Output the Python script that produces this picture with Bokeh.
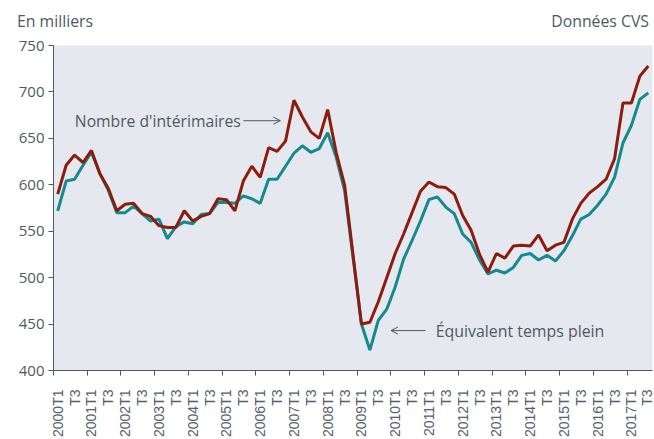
import math
from bokeh.plotting import figure
from bokeh.layouts import column
from bokeh.models import Range1d, FixedTicker, Label, Arrow, OpenHead, Div
from bokeh.embed import file_html
from bokeh.resources import INLINE

# Quarterly categories 2000T1 .. 2017T3
years = list(range(2000, 2018))
quarters = [f"{y}T{q}" for y in years for q in (1, 2, 3, 4)][:71]

# Nombre d'intérimaires (milliers, CVS)
interimaires = [590, 621, 632, 624, 637, 612, 596, 572, 579, 580,
                569, 566, 556, 554, 554, 572, 561, 566, 569, 585,
                584, 572, 604, 620, 608, 640, 636, 647, 691, 673,
                657, 650, 681, 635, 600, 525, 450, 452, 474, 500,
                526, 547, 570, 593, 603, 598, 597, 590, 567, 551,
                525, 506, 526, 521, 534, 535, 534, 546, 529, 535,
                538, 563, 580, 591, 598, 606, 628, 688, 688, 717,
                728]

# Équivalent temps plein (milliers, CVS)
etp = [572, 604, 606, 621, 635, 612, 594, 570, 570, 577,
       569, 561, 563, 542, 555, 560, 558, 568, 569, 581,
       581, 580, 588, 585, 580, 606, 606, 620, 634, 642,
       635, 639, 656, 630, 594, 522, 450, 422, 454, 466,
       490, 520, 540, 561, 584, 587, 576, 569, 547, 538,
       519, 504, 508, 505, 511, 524, 526, 519, 524, 518,
       529, 545, 563, 568, 578, 590, 608, 645, 664, 692,
       699]

y_ticks = [400, 450, 500, 550, 600, 650, 700, 750]

TEXT = "#4d5a63"
RED = "#8b1c0e"
TEAL = "#138a8c"

W = 654
HEAD_H = 33

# ---- header (unit / source notes) ----
span_style = ("position:absolute;top:10px;font-family:'Open Sans';font-size:15.8px;"
              "line-height:normal;color:%s;white-space:nowrap;" % TEXT)
header = Div(width=W, height=HEAD_H, margin=0,
             text=('<div style="position:relative;width:%dpx;height:%dpx;">'
                   '<span style="%sleft:17px;">En milliers</span>'
                   '<span style="%sright:5px;">Données CVS</span></div>')
                  % (W, HEAD_H, span_style, span_style))

# ---- main chart ----
xs = list(range(len(quarters)))

p = figure(width=W, height=439 - HEAD_H, x_range=Range1d(-0.5, len(quarters) - 0.5),
           y_range=Range1d(y_ticks[0], y_ticks[-1]),
           output_backend="svg", toolbar_location=None,
           min_border_left=53, min_border_right=2, min_border_top=12, min_border_bottom=69)
p.background_fill_color = "#e5e8ee"
p.border_fill_color = "white"
p.outline_line_color = None
p.xgrid.visible = False
p.ygrid.visible = False

# x axis: labels every 2 quarters, ticks at year boundaries
label_pos = [i for i in xs if i % 2 == 0]
p.xaxis.ticker = FixedTicker(ticks=label_pos,
                             minor_ticks=[i - 0.5 for i in range(0, len(quarters) + 4, 4)])
p.xaxis.major_label_overrides = {i: (quarters[i] if quarters[i].endswith("T1") else quarters[i][4:])
                                 for i in label_pos}
p.xaxis.major_label_orientation = math.pi / 2
p.xaxis.major_tick_out = 0
p.xaxis.major_tick_in = 0
p.xaxis.minor_tick_out = 5
p.xaxis.minor_tick_in = 0
p.xaxis.major_label_standoff = 14
p.xaxis.major_label_text_font = "Liberation Sans"
p.xaxis.major_label_text_font_size = "14px"
p.xaxis.major_label_text_color = "#55606a"
p.xaxis.axis_line_color = TEXT
p.xaxis.minor_tick_line_color = TEXT

# y axis
p.yaxis.ticker = FixedTicker(ticks=y_ticks)
p.yaxis.major_tick_out = 5
p.yaxis.major_tick_in = 0
p.yaxis.minor_tick_out = 0
p.yaxis.minor_tick_in = 0
p.yaxis.major_label_standoff = 4
p.yaxis.major_label_text_font = "Open Sans"
p.yaxis.major_label_text_font_size = "15px"
p.yaxis.major_label_text_color = TEXT
p.yaxis.axis_line_color = TEXT
p.yaxis.major_tick_line_color = TEXT

p.line(xs, etp, line_color=TEAL, line_width=3)
p.line(xs, interimaires, line_color=RED, line_width=3)

# annotations
p.add_layout(Label(x=21.7, y=669, text="Nombre d'intérimaires", text_font="Open Sans",
                   text_font_size="15.7px", text_color=TEXT, text_baseline="middle",
                   text_align="right"))
p.add_layout(Arrow(end=OpenHead(size=7, line_color=TEXT, line_width=1),
                   x_start=22.0, y_start=669, x_end=26.4, y_end=669,
                   line_color=TEXT, line_width=1))
p.add_layout(Label(x=44.8, y=443, text="Équivalent temps plein", text_font="Open Sans",
                   text_font_size="15.9px", text_color=TEXT, text_baseline="middle",
                   text_align="left"))
p.add_layout(Arrow(end=OpenHead(size=7, line_color=TEXT, line_width=1),
                   x_start=43.6, y_start=443, x_end=39.5, y_end=443,
                   line_color=TEXT, line_width=1))

layout = column(header, p, spacing=0)
open("out.html", "w").write(file_html(layout, INLINE))
